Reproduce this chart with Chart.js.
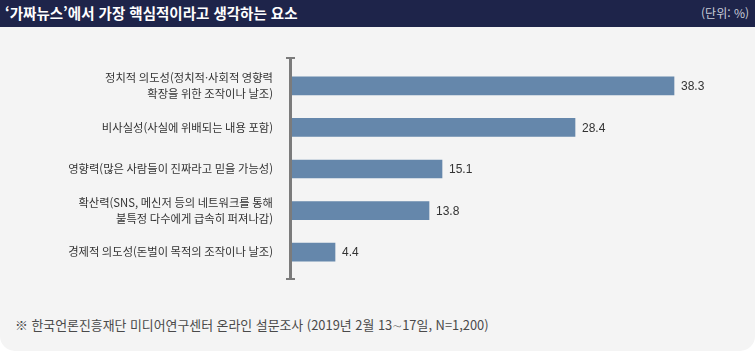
<!DOCTYPE html>
<html lang="ko">
<head>
<meta charset="utf-8">
<script src="https://cdn.jsdelivr.net/npm/chart.js@4/dist/chart.umd.min.js"></script>
<style>
  html, body { margin: 0; padding: 0; background: #ffffff; }
  #panel {
    position: relative; width: 755px; height: 351px; background: #f4f4f4;
    border-radius: 0 0 15px 15px; overflow: hidden;
    font-family: "Noto Sans CJK KR", "Noto Sans", sans-serif;
  }
  #head {
    position: absolute; left: 0; top: 0; width: 755px; height: 27px; background: #1e244a;
  }
  #title {
    position: absolute; left: 5px; top: 4px; color: #ffffff; font-size: 14.5px; font-weight: 700;
    line-height: 18px; white-space: nowrap;
  }
  #unit {
    position: absolute; right: 6px; top: 5px; color: #c9cdd9; font-size: 12px; line-height: 16px;
  }
  #wrap { position: absolute; left: 0; top: 27px; width: 755px; height: 280px; }
  #note {
    position: absolute; left: 15px; top: 316px; color: #4a4a4a; font-size: 12.9px; line-height: 18px;
    white-space: nowrap;
  }
</style>
</head>
<body>
<div id="panel">
  <div id="head">
    <div id="title">‘가짜뉴스’에서 가장 핵심적이라고 생각하는 요소</div>
    <div id="unit">(단위: %)</div>
  </div>
  <div id="wrap"><canvas id="chart"></canvas></div>
  <div id="note">※ 한국언론진흥재단 미디어연구센터 온라인 설문조사 (2019년 2월 13∼17일, N=1,200)</div>
</div>
<script>
// 항목과 응답 비율(%)
const categories = [
    ['정치적 의도성(정치적·사회적 영향력', '확장을 위한 조작이나 날조)'],
    '비사실성(사실에 위배되는 내용 포함)',
    '영향력(많은 사람들이 진짜라고 믿을 가능성)',
    ['확산력(SNS, 메신저 등의 네트워크를 통해', '불특정 다수에게 급속히 퍼져나감)'],
    '경제적 의도성(돈벌이 목적의 조작이나 날조)'
];
const values = [38.3, 28.4, 15.1, 13.8, 4.4];

// 막대 끝에 값 표시
const valueLabels = {
    id: 'valueLabels',
    afterDatasetsDraw(chart) {
        const ctx = chart.ctx;
        const meta = chart.getDatasetMeta(0);
        ctx.save();
        ctx.font = '12px "Liberation Sans Narrow", "Liberation Sans", sans-serif';
        ctx.fillStyle = '#333333';
        ctx.textBaseline = 'middle';
        ctx.textAlign = 'left';
        meta.data.forEach((bar, i) => {
            ctx.fillText(values[i].toFixed(1), bar.x + 7, bar.y + 1);
        });
        ctx.restore();
    }
};

// 세로축 선 (위·아래 끝에 짧은 가로선)
const axisLine = {
    id: 'axisLine',
    afterDatasetsDraw(chart) {
        const ctx = chart.ctx;
        const x = chart.scales.x.getPixelForValue(0) - 0.5;
        const top = chart.chartArea.top - 8;
        const bottom = chart.chartArea.bottom + 7;
        ctx.save();
        ctx.strokeStyle = '#7b7b7b';
        ctx.lineWidth = 3;
        ctx.beginPath();
        ctx.moveTo(x, top);
        ctx.lineTo(x, bottom);
        ctx.stroke();
        ctx.lineWidth = 2;
        ctx.beginPath();
        ctx.moveTo(x - 4.5, top + 1);
        ctx.lineTo(x + 4.5, top + 1);
        ctx.moveTo(x - 4.5, bottom - 1);
        ctx.lineTo(x + 4.5, bottom - 1);
        ctx.stroke();
        ctx.restore();
    }
};

new Chart(document.getElementById('chart'), {
    type: 'bar',
    data: {
        labels: categories,
        datasets: [{
            data: values,
            backgroundColor: '#6587ab',
            barThickness: 18
        }]
    },
    options: {
        indexAxis: 'y',
        responsive: true,
        maintainAspectRatio: false,
        animation: false,
        layout: { padding: { left: 0, right: 4, top: 38, bottom: 24 } },
        plugins: { legend: { display: false }, tooltip: { enabled: false } },
        scales: {
            x: { min: 0, max: 46, display: false },
            y: {
                grid: { display: false, drawTicks: false },
                border: { display: false },
                afterFit(scale) { scale.width = 291; },
                ticks: {
                    padding: 18,
                    color: '#333333',
                    font: { family: '"Noto Sans CJK KR", sans-serif', size: 11.3, lineHeight: 1.42 }
                }
            }
        }
    },
    plugins: [valueLabels, axisLine]
});
</script>
</body>
</html>
